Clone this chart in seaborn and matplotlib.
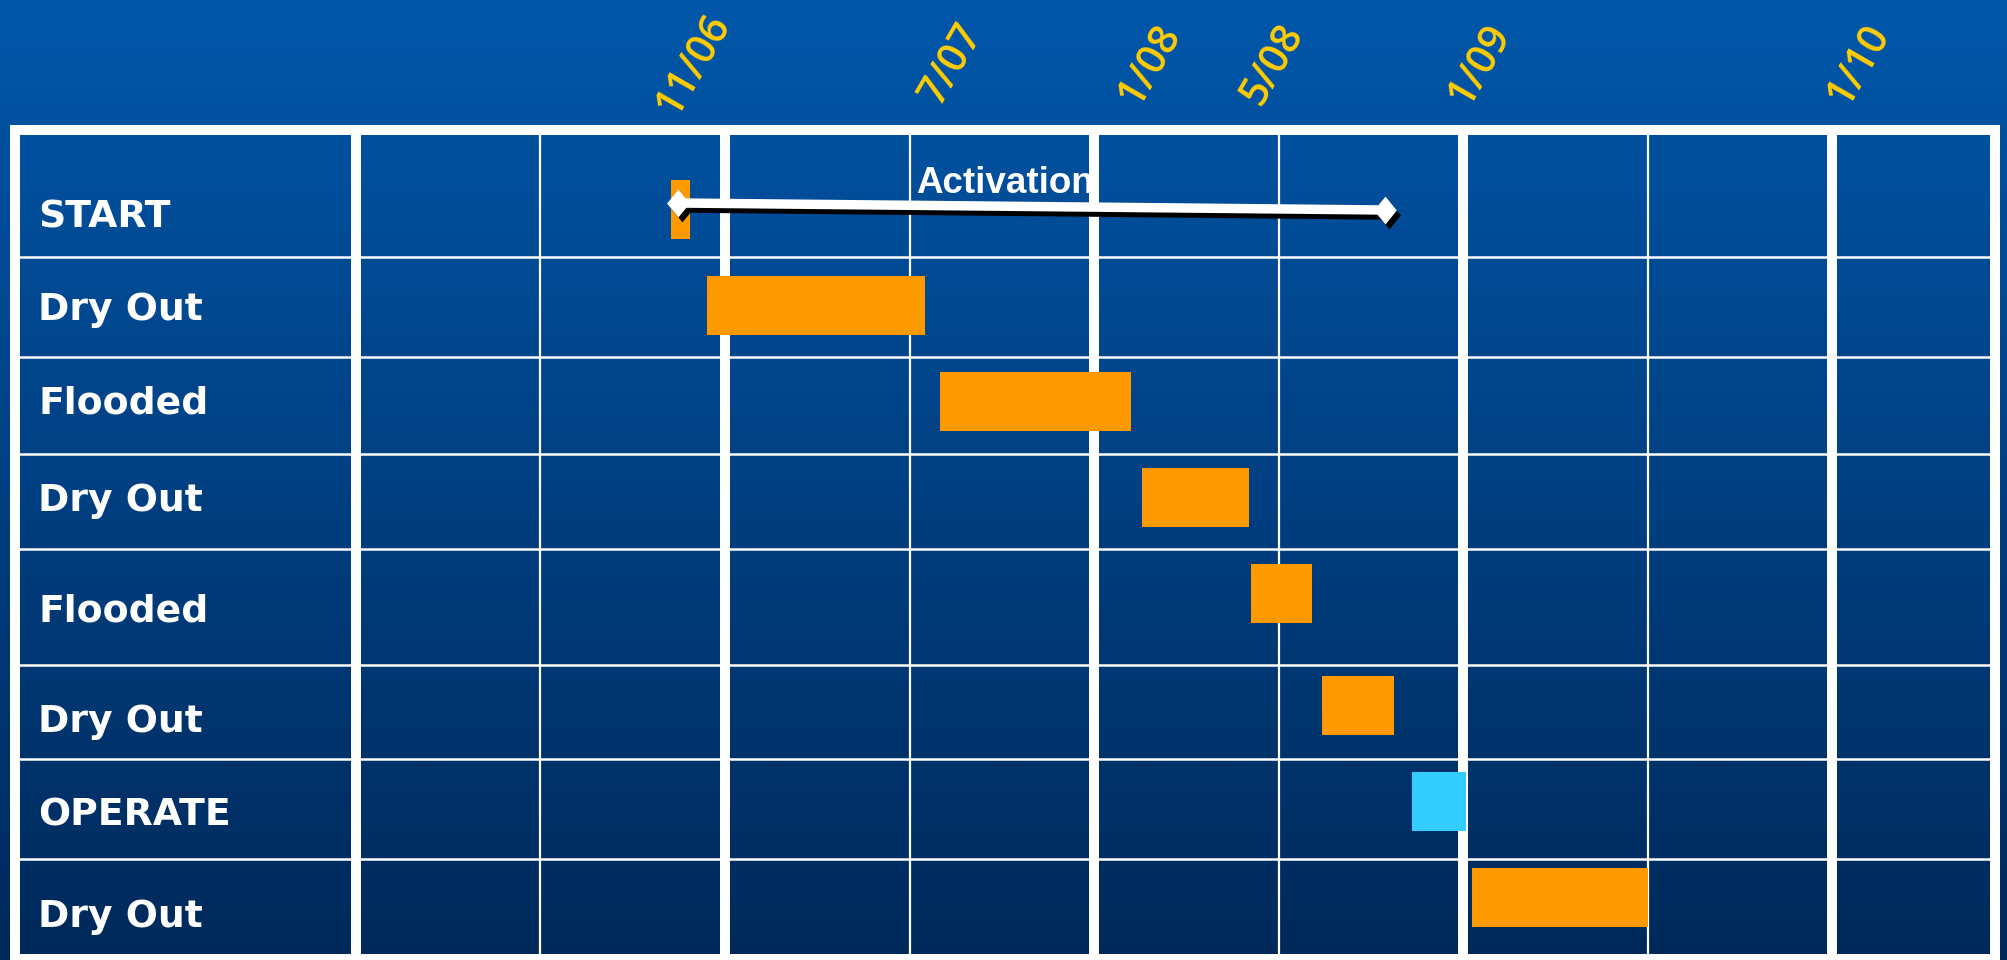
import numpy as np
import matplotlib
matplotlib.use("Agg")
import matplotlib.pyplot as plt
import seaborn as sns
from matplotlib.path import Path
from matplotlib.colors import LinearSegmentedColormap
from matplotlib.transforms import blended_transform_factory, offset_copy

# ---- schedule (months counted from January 2006) ----
phases = ["START", "Dry Out", "Flooded", "Dry Out", "Flooded", "Dry Out", "OPERATE", "Dry Out"]
phase_start = [10.25, 11.4, 19.0, 25.55, 29.1, 31.4, 34.35, 36.3]
phase_end = [10.85, 18.5, 25.2, 29.05, 31.1, 33.75, 36.1, 42.0]
phase_is_operation = [False, False, False, False, False, False, True, False]

activation_label = "Activation"
activation_span = [10.47, 33.46]

date_labels = ["11/06", "7/07", "1/08", "5/08", "1/09", "1/10"]
date_months = [10, 18, 24, 28, 36, 48]

# ---- layout (pixels at 100 dpi) ----
W, H, DPI = 2007, 960, 100
PX_PER_MONTH = 30.756
MONTH0_PX = 355.9
TABLE_LEFT, TABLE_RIGHT, TABLE_TOP, TABLE_BOTTOM = 14.5, 1995, 130, 959
row_heights = [127, 100, 97, 95, 116, 94, 100, 100]
bar_shift = [16, -1.5, -4, -4.5, -14, -6.5, -7.5, -11.5]
label_shift = [19.5, -1, -6.5, -4.5, 1, 6, 2, 4]
activation_shift = [9.5, 16.5]
date_label_dx = [30, 42, 55.5, 55.5, 17, 27]
BAR_H = 59
CAP_HALF = 14

TOP_BLUE = "#0257AA"
BOTTOM_BLUE = "#00295A"
ORANGE = "#FF9900"
CYAN = "#33CCFF"
GOLD = "#FFCC00"

sns.set_theme(style="white")
plt.rcParams["font.family"] = ["Open Sans", "DejaVu Sans"]

fig = plt.figure(figsize=(W / DPI, H / DPI), dpi=DPI)

# slide background: vertical blue gradient
bg = fig.add_axes([0, 0, 1, 1], zorder=0)
cmap = LinearSegmentedColormap.from_list("slide", [TOP_BLUE, BOTTOM_BLUE])
bg.imshow(np.linspace(0, 1, 512).reshape(-1, 1), aspect="auto", cmap=cmap,
          extent=[0, 1, 0, 1])
bg.set_axis_off()

# schedule table
ax = fig.add_axes([TABLE_LEFT / W, 1 - TABLE_BOTTOM / H,
                   (TABLE_RIGHT - TABLE_LEFT) / W, (TABLE_BOTTOM - TABLE_TOP) / H],
                  zorder=1)
ax.patch.set_visible(False)

edges = np.concatenate([[0], np.cumsum(row_heights)])
centers = (edges[:-1] + edges[1:]) / 2

# row separators
for e in edges[1:-1]:
    ax.axhline(e, color="white", lw=1.8, zorder=1)
# half-year columns, heavier at each new year
for m in range(0, 49, 6):
    ax.axvline(m, color="white", lw=7.2 if m % 12 == 0 else 1.6, zorder=1)

# phase bars
bar_y = centers + np.array(bar_shift)
colors = [CYAN if op else ORANGE for op in phase_is_operation]
ax.barh(bar_y, np.subtract(phase_end, phase_start), left=phase_start,
        height=BAR_H, color=colors, linewidth=0, zorder=3)

# phase names
label_tr = blended_transform_factory(ax.transAxes, ax.transData)
lx = (38 - TABLE_LEFT) / (TABLE_RIGHT - TABLE_LEFT)
for name, c, sh in zip(phases, centers, label_shift):
    ax.text(lx, c + sh + CAP_HALF, name, transform=label_tr, ha="left",
            va="baseline", fontsize=27.2, fontweight="bold", color="white",
            family=["DejaVu Sans"], zorder=6)

# activation span: white double-diamond line with a drop shadow
act_y = centers[0] + np.array(activation_shift)
diamond = Path([(0, 1), (0.82, 0), (0, -1), (-0.82, 0), (0, 1)],
               [Path.MOVETO, Path.LINETO, Path.LINETO, Path.LINETO, Path.CLOSEPOLY])
shadow_tr = offset_copy(ax.transData, fig=fig, x=3.0, y=-3.6, units="points")
ax.plot(activation_span, act_y, color="black", lw=6.8, marker=diamond,
        markersize=20, markeredgewidth=0, markerfacecolor="black",
        transform=shadow_tr, solid_capstyle="butt", zorder=4)
sns.lineplot(x=activation_span, y=act_y, ax=ax, color="white", lw=6.8,
             marker=diamond, markersize=20, markeredgewidth=0,
             markerfacecolor="white", solid_capstyle="butt", zorder=5)
ax.text(21.1, 63, activation_label, ha="center", va="baseline", fontsize=26.5,
        fontweight="bold", color="white", family=["Liberation Sans", "DejaVu Sans"],
        zorder=6)

# date markers above the table
date_tr = blended_transform_factory(ax.transData, fig.transFigure)
for txt, m, dx in zip(date_labels, date_months, date_label_dx):
    ax.text(m + dx / PX_PER_MONTH, 1 - 64.5 / H, txt, transform=date_tr,
            rotation=60, rotation_mode="anchor", ha="center", va="center",
            fontsize=29.5, fontweight="semibold", color=GOLD, clip_on=False)

ax.set_xlim((TABLE_LEFT - MONTH0_PX) / PX_PER_MONTH,
            (TABLE_RIGHT - MONTH0_PX) / PX_PER_MONTH)
ax.set_ylim(edges[-1], 0)
ax.set_xticks([])
ax.set_yticks([])
ax.set_xlabel("")
ax.set_ylabel("")
for s in ax.spines.values():
    s.set_visible(True)
    s.set_color("white")
    s.set_linewidth(7.2)

fig.savefig("out.png", dpi=DPI)
